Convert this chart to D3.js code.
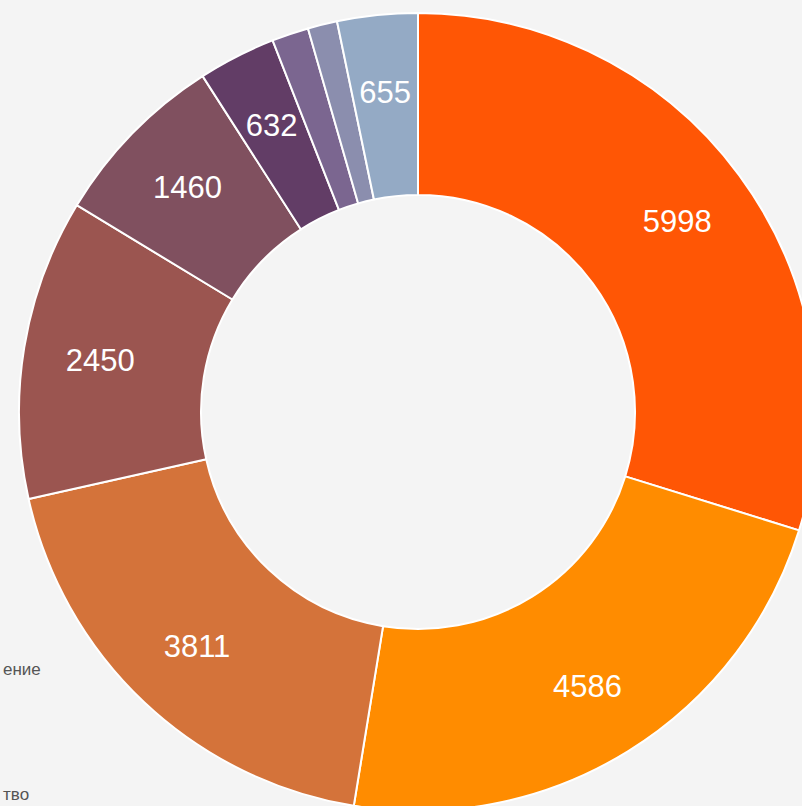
<!DOCTYPE html>
<html>
<head>
<meta charset="utf-8">
<script src="https://cdnjs.cloudflare.com/ajax/libs/d3/7.8.5/d3.min.js"></script>
<style>
	html, body { margin: 0; padding: 0; background: #f4f4f4; overflow: hidden; }
	svg { display: block; }
</style>
</head>
<body>
<div id="draw_area"></div>
<script>
// slice values, clockwise from 12 o'clock
var values = [5998, 4586, 3811, 2450, 1460, 632, 300, 240, 655]
var labels = ['5998', '4586', '3811', '2450', '1460', '632', '', '', '655']
var colors = ['#ff5605', '#ff8c00', '#d4733a', '#9b5550', '#80505f', '#623d66', '#7b6690', '#8b8eae', '#94aac5']
// legend entries, only their right ends are visible
var legendTexts = ['ение', 'тво']

var W = 802, H = 806
var cx = 418, cy = 412
var outerR = 399, innerR = 217, labelR = 322

var svg = d3.select('#draw_area').append('svg')
	.attr('width', W)
	.attr('height', H)

svg.append('rect')
	.attr('width', W)
	.attr('height', H)
	.attr('fill', '#f4f4f4')

var pie = d3.pie().sort(null).value((d) => d.v)
var arc = d3.arc().innerRadius(innerR).outerRadius(outerR)
var labelArc = d3.arc().innerRadius(labelR).outerRadius(labelR)

var data = values.map((v, i) => ({v: v, label: labels[i], color: colors[i]}))
var arcs = pie(data)

var g = svg.append('g')
	.attr('transform', `translate(${cx},${cy})`)

g.selectAll('path')
	.data(arcs)
	.enter().append('path')
	.attr('d', arc)
	.attr('fill', (d) => d.data.color)
	.attr('stroke', '#fff')
	.attr('stroke-width', 2)
	.attr('stroke-linejoin', 'round')

g.selectAll('text.lbl')
	.data(arcs.filter((d) => d.data.label))
	.enter().append('text')
	.attr('class', 'lbl')
	.attr('transform', (d) => `translate(${labelArc.centroid(d)})`)
	.attr('text-anchor', 'middle')
	.attr('dy', '0.36em')
	.style('font-family', 'Liberation Sans, Arial, sans-serif')
	.style('font-size', '31px')
	.style('fill', '#fff')
	.text((d) => d.data.label)

// legend (only the word endings show at the left edge)
var legendY = d3.scalePoint().domain(legendTexts).range([675, 800])
svg.selectAll('text.leg')
	.data(legendTexts)
	.enter().append('text')
	.attr('class', 'leg')
	.attr('x', 3)
	.attr('y', (d) => legendY(d))
	.attr('text-anchor', 'start')
	.style('font-family', 'Liberation Sans, Arial, sans-serif')
	.style('font-size', '17px')
	.style('fill', '#555')
	.text((d) => d)
</script>
</body>
</html>
